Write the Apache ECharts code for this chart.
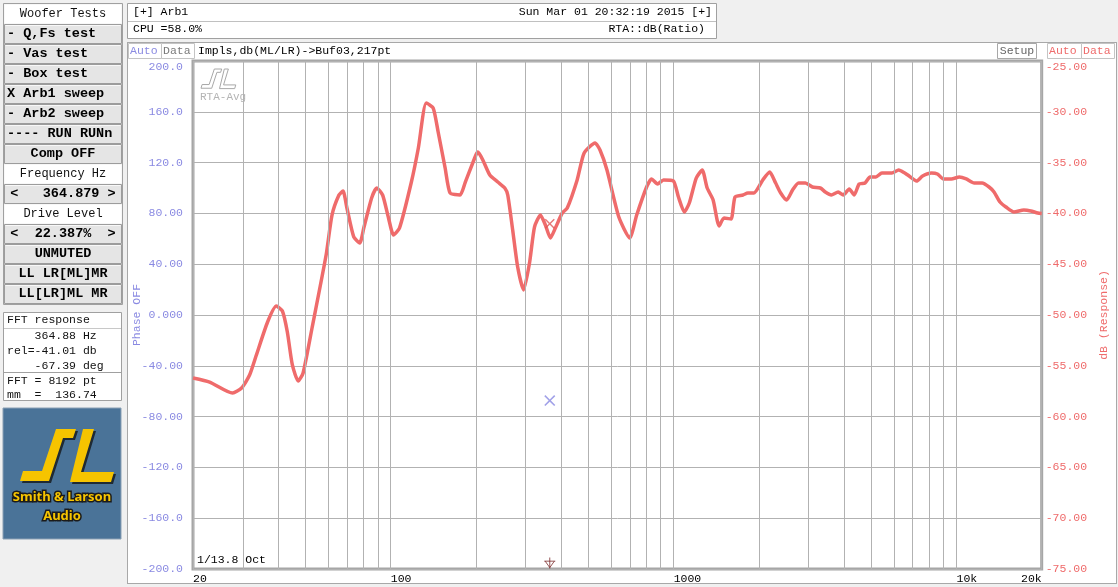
<!DOCTYPE html>
<html><head><meta charset="utf-8">
<script src="https://cdn.jsdelivr.net/npm/echarts@6/dist/echarts.min.js"></script>
<style>
html,body{margin:0;padding:0;background:#f0f0f0;overflow:hidden;}
#panel{position:absolute;left:127px;top:42px;width:988px;height:540px;background:#fff;border:1px solid #a8a8a8;}
#c{position:absolute;left:0;top:0;width:1118px;height:587px;}
</style>
</head><body><div id="panel"></div><div id="c"></div>
<script>
// ---- data ----
const freqHz = [20.0, 22.9, 27.6, 29.7, 31.7, 33.5, 36.7, 39.4, 41.4, 43.1,
  44.9, 47.1, 49.0, 52.7, 59.1, 62.0, 65.6, 67.8, 70.0, 74.0,
  77.7, 80.3, 85.6, 89.2, 93.6, 98.2, 102.3, 107.4, 118.3, 125.2,
  133.5, 141.3, 147.1, 155.7, 162.1, 175.8, 183.0, 200.0, 203.3, 211.6,
  224.0, 239.0, 253.0, 259.2, 269.8, 281.0, 294.8, 309.4, 322.2, 338.2,
  352.1, 366.7, 381.9, 404.0, 420.7, 456.0, 482.7, 527.4, 549.2, 581.2,
  640.2, 699.8, 740.4, 802.6, 835.8, 877.2, 920.8, 998.4, 1040, 1091,
  1136, 1202, 1262, 1314, 1379, 1448, 1507, 1596, 1648, 1758,
  1830, 1921, 2066, 2186, 2294, 2390, 2508, 2633, 2764, 2924,
  3094, 3300, 3436, 3608, 3817, 3977, 4175, 4347, 4526, 4750,
  4944, 5188, 5446, 5906, 6246, 6559, 6721, 7228, 7586, 8156,
  8561, 8987, 9588, 10230, 10824, 11549, 12322, 13032, 13570, 14245,
  14952, 15952, 17294, 18300, 19364, 20000];
const responseDb = [-56.20, -56.60, -57.68, -57.19, -55.91, -53.94, -50.69, -49.12, -49.61, -51.67,
  -54.92, -56.50, -55.71, -51.28, -44.10, -40.16, -38.19, -37.80, -39.47, -42.32,
  -42.91, -41.44, -38.48, -37.50, -38.19, -40.45, -42.13, -41.44, -36.91, -33.56,
  -29.13, -29.63, -31.99, -35.53, -37.99, -38.19, -37.01, -34.25, -33.96, -34.74,
  -36.22, -36.91, -37.50, -38.19, -41.63, -45.28, -47.54, -44.88, -41.34, -40.16,
  -41.14, -42.42, -41.44, -39.96, -39.47, -36.71, -34.06, -33.07, -33.76, -35.73,
  -40.36, -42.42, -40.16, -37.40, -36.61, -37.11, -36.71, -36.81, -38.39, -39.86,
  -38.98, -36.52, -35.73, -37.50, -38.68, -41.24, -40.45, -40.55, -38.39, -38.19,
  -37.99, -37.99, -36.71, -35.93, -37.01, -37.99, -38.68, -37.70, -37.01, -37.01,
  -37.40, -37.50, -37.89, -38.19, -37.89, -38.19, -37.60, -38.19, -37.11, -37.01,
  -36.42, -36.42, -36.02, -36.02, -35.73, -36.02, -36.22, -36.81, -36.32, -36.02,
  -36.12, -36.61, -36.61, -36.42, -36.61, -37.01, -37.01, -37.40, -37.89, -38.88,
  -39.37, -39.86, -39.67, -39.76, -39.96, -40.00];
const cursorFreq = 364.88;
const cursorDb = -41.01;
const cursorPhase = -67.39;
const minorGridFreqs = [30, 40, 50, 60, 70, 80, 90, 200, 300, 400, 500, 600, 700, 800, 900,
  2000, 3000, 4000, 5000, 6000, 7000, 8000, 9000];
const freqTicks = [20, 100, 1000, 10000, 20000];
const freqTickLabels = ['20', '100', '1000', '10k', '20k'];
const phaseTicks = [-200, -160, -120, -80, -40, 0, 40, 80, 120, 160, 200];
const phaseTickLabels = ['-200.0', '-160.0', '-120.0', '-80.00', '-40.00', '0.000', '40.00', '80.00', '120.0', '160.0', '200.0'];
const dbTicks = [-75, -70, -65, -60, -55, -50, -45, -40, -35, -30, -25];
const dbTickLabels = ['-75.00', '-70.00', '-65.00', '-60.00', '-55.00', '-50.00', '-45.00', '-40.00', '-35.00', '-30.00', '-25.00'];

// ---- styling ----
const MONO = '"Liberation Mono", "Courier New", monospace';
const PHASE_C = '#8a8ae2';
const DB_C = '#ef6b6b';
const GRID_C = '#b2b2b2';

function lookup(ticks, labels) {
  return function (v) {
    for (let i = 0; i < ticks.length; i++) {
      if (Math.abs(ticks[i] - v) <= 1e-6 * Math.max(1, Math.abs(v))) return labels[i];
    }
    return '';
  };
}

const g = [];
function rect(x, y, w, h, fill, stroke, lw) {
  g.push({ type: 'rect', silent: true, shape: { x: x, y: y, width: w, height: h },
    style: { fill: fill, stroke: stroke || null, lineWidth: lw || 1 } });
}
function line(x1, y1, x2, y2, c) {
  g.push({ type: 'line', silent: true, shape: { x1: x1, y1: y1, x2: x2, y2: y2 }, style: { stroke: c, lineWidth: 1 } });
}
function txt(x, y, t, o) {
  o = o || {};
  const a = o.a || 'left';
  g.push({ type: 'text', silent: true, x: x, y: y,
    style: { text: t, fill: o.c || '#000', font: o.f || ('11.5px ' + MONO),
      textAlign: a, align: a, textVerticalAlign: 'middle', verticalAlign: 'middle',
      stroke: o.s || null, lineWidth: o.lw || 0, strokeFirst: true } });
}

// left control panel
rect(3.5, 3.5, 119, 301, '#f0f0f0', '#a0a0a0');
const panelRows = [
  ['Woofer Tests', 'label'], ['- Q,Fs test', 'btnL'], ['- Vas test', 'btnL'], ['- Box test', 'btnL'],
  ['X Arb1 sweep', 'btnL'], ['- Arb2 sweep', 'btnL'], ['---- RUN RUNn', 'btnL'], ['Comp OFF', 'btnC'],
  ['Frequency Hz', 'label'], ['<   364.879 >', 'btnC'], ['Drive Level', 'label'], ['<  22.387%  >', 'btnC'],
  ['UNMUTED', 'btnC'], ['LL LR[ML]MR', 'btnC'], ['LL[LR]ML MR', 'btnC']
];
panelRows.forEach(function (r, i) {
  const y0 = 4 + i * 20;
  if (r[1] === 'label') {
    rect(4.5, y0 + 0.5, 117, 19, '#ffffff', null);
    txt(63, y0 + 10, r[0], { a: 'center', f: '12px ' + MONO, c: '#111' });
  } else {
    rect(4.5, y0 + 0.5, 117, 19, '#e5e5e5', '#9c9c9c');
    line(5.5, y0 + 1.5, 120.5, y0 + 1.5, '#f8f8f8');
    if (r[1] === 'btnL') txt(7, y0 + 10, r[0], { f: 'bold 13.5px ' + MONO });
    else txt(63, y0 + 10, r[0], { a: 'center', f: 'bold 13.5px ' + MONO });
  }
});

// FFT readout box
rect(3.5, 312.5, 118, 88, '#ffffff', '#a0a0a0');
line(4, 328.5, 121, 328.5, '#c8c8c8');
line(4, 372.5, 121, 372.5, '#a0a0a0');
const fftLines = ['FFT response', '    364.88 Hz', 'rel=-41.01 db', '    -67.39 deg', 'FFT = 8192 pt', 'mm  =  136.74'];
const fftY = [320, 336, 351, 366, 381, 395];
fftLines.forEach(function (t, i) { txt(7, fftY[i], t, { f: '11.5px ' + MONO, c: '#111' }); });

// logo
rect(3, 408, 118, 131, '#4a7398', '#8aa0b4');
const Sbig = [[20, 481], [49, 481], [63, 438], [73, 438], [76, 429], [56, 429], [42, 471], [23, 471]];
const Lbig = [[83, 429], [94, 429], [81, 472], [114, 472], [111, 482], [70, 482]];
[Sbig, Lbig].forEach(function (p) {
  g.push({ type: 'polygon', silent: true, shape: { points: p.map(function (q) { return [q[0] + 2, q[1] + 2]; }) }, style: { fill: '#1f2a33' } });
  g.push({ type: 'polygon', silent: true, shape: { points: p }, style: { fill: '#f6c400' } });
});
txt(62, 497, 'Smith & Larson', { a: 'center', f: 'bold 13px "Noto Sans", sans-serif', c: '#f6c400', s: '#1b1b1b', lw: 3 });
txt(62, 516, 'Audio', { a: 'center', f: 'bold 13px "Noto Sans", sans-serif', c: '#f6c400', s: '#1b1b1b', lw: 3 });

// header box
rect(127.5, 3.5, 589, 35, '#ffffff', '#a0a0a0');
line(128, 21.5, 716, 21.5, '#c0c0c0');
txt(133, 12, '[+] Arb1');
txt(712, 12, 'Sun Mar 01 20:32:19 2015 [+]', { a: 'right' });
txt(133, 29, 'CPU =58.0%');
txt(705, 29, 'RTA::dB(Ratio)', { a: 'right' });

// chart panel top strip
rect(128.5, 43.5, 33, 15, '#ffffff', '#c4c4c4');
rect(161.5, 43.5, 33, 15, '#ffffff', '#c4c4c4');
txt(130, 51, 'Auto', { c: PHASE_C });
txt(163, 51, 'Data', { c: '#7a7a7a' });
txt(198, 51, 'Impls,db(ML/LR)->Buf03,217pt');
rect(997.5, 43.5, 39, 15, '#ffffff', '#a8a8a8');
txt(1017, 51, 'Setup', { a: 'center', c: '#666' });
rect(1047.5, 43.5, 34, 15, '#ffffff', '#c4c4c4');
rect(1081.5, 43.5, 33, 15, '#ffffff', '#c4c4c4');
txt(1049, 51, 'Auto', { c: DB_C });
txt(1083, 51, 'Data', { c: DB_C });

// watermark inside plot
function small(p) { return p.map(function (q) { return [201 + (q[0] - 20) * 0.37, 69 + (q[1] - 429) * 0.37]; }); }
[Sbig, Lbig].forEach(function (p) {
  g.push({ type: 'polygon', silent: true, z: 10, shape: { points: small(p) }, style: { fill: 'none', stroke: '#a8a8a8', lineWidth: 1 } });
});
txt(200, 97, 'RTA-Avg', { c: '#b4b4b4', f: '11px ' + MONO });
txt(197, 560, '1/13.8 Oct', { f: '11.5px ' + MONO });

const XPATH = 'path://M0,1L1,0L5,4L9,0L10,1L6,5L10,9L9,10L5,6L1,10L0,9L4,5Z';

const chart = echarts.init(document.getElementById('c'));
chart.setOption({
  backgroundColor: 'transparent',
  animation: false,
  grid: { left: 193, right: 73, top: 61, bottom: 18, show: true, backgroundColor: '#ffffff', borderColor: '#a6a6a6', borderWidth: 3 },
  xAxis: {
    type: 'log', logBase: 10, min: freqTicks[0], max: freqTicks[freqTicks.length - 1],
    axisLine: { show: false }, axisTick: { show: false },
    splitLine: { show: true, lineStyle: { color: GRID_C, width: 1 } },
    axisLabel: { color: '#000', fontFamily: MONO, fontSize: 11.5, margin: 4, align: 'left', alignMaxLabel: 'right',
      showMinLabel: true, showMaxLabel: true, formatter: lookup(freqTicks, freqTickLabels) }
  },
  yAxis: [{
    type: 'value', position: 'left', min: phaseTicks[0], max: phaseTicks[phaseTicks.length - 1], interval: 40,
    name: 'Phase OFF', nameLocation: 'middle', nameGap: 50, nameRotate: 90, nameMoveOverlap: false,
    nameTextStyle: { color: PHASE_C, fontFamily: MONO, fontSize: 11.5 },
    axisLine: { show: false }, axisTick: { show: false },
    splitLine: { show: true, lineStyle: { color: GRID_C, width: 1 } },
    axisLabel: { color: PHASE_C, fontFamily: MONO, fontSize: 11.5, margin: 10, verticalAlignMaxLabel: 'top',
      formatter: lookup(phaseTicks, phaseTickLabels) }
  }, {
    type: 'value', position: 'right', min: dbTicks[0], max: dbTicks[dbTicks.length - 1], interval: 5,
    name: 'dB (Response)', nameLocation: 'middle', nameGap: 53, nameRotate: 90,
    nameTextStyle: { color: DB_C, fontFamily: MONO, fontSize: 11.5 },
    axisLine: { show: false }, axisTick: { show: false }, splitLine: { show: false },
    axisLabel: { color: DB_C, fontFamily: MONO, fontSize: 11.5, margin: 4, verticalAlignMaxLabel: 'top',
      formatter: lookup(dbTicks, dbTickLabels) }
  }],
  graphic: { elements: g },
  series: [{
    type: 'scatter', name: 'phase cursor', yAxisIndex: 0, z: 1,
    data: [[cursorFreq, cursorPhase]], symbol: XPATH, symbolSize: 11,
    itemStyle: { color: PHASE_C },
    markLine: { silent: true, symbol: 'none', label: { show: false },
      lineStyle: { color: GRID_C, width: 1, type: 'solid' },
      data: minorGridFreqs.map(function (f) { return { xAxis: f }; }) }
  }, {
    type: 'line', name: 'response', yAxisIndex: 1, z: 3,
    data: freqHz.map(function (f, i) { return [f, responseDb[i]]; }),
    showSymbol: false, smooth: 0.2,
    lineStyle: { color: DB_C, width: 3.5 }, itemStyle: { color: DB_C }
  }, {
    type: 'scatter', name: 'db cursor', yAxisIndex: 1, z: 4,
    data: [[cursorFreq, cursorDb]], symbol: XPATH, symbolSize: 10,
    itemStyle: { color: '#e05555' }
  }, {
    type: 'scatter', name: 'axis cursor', yAxisIndex: 0, z: 4,
    data: [[cursorFreq, phaseTicks[0]]], symbolOffset: [0, -6], symbolSize: [11, 11],
    symbol: 'path://M0,4L12,4M6,0L6,12M1,4L6,11L11,4',
    itemStyle: { color: 'transparent', borderColor: '#7a2a2a', borderWidth: 1 }
  }]
});
</script>
</body></html>
